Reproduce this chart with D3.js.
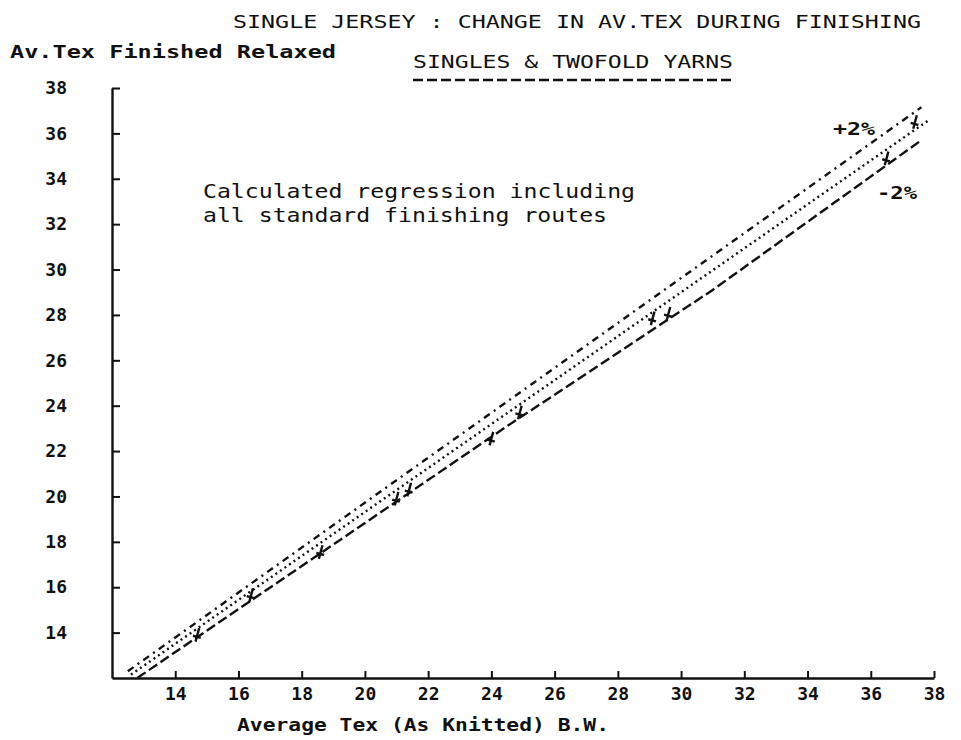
<!DOCTYPE html>
<html><head><meta charset="utf-8">
<script src="https://cdn.jsdelivr.net/npm/d3@7"></script>
<style>
body{margin:0;background:#fff;}
text{font-family:"DejaVu Sans Mono",monospace;fill:#111;}
</style></head>
<body><svg id="c" width="961" height="740"></svg>
<script>
// ---- data ----
const xTicks = [14,16,18,20,22,24,26,28,30,32,34,36,38];
const yTicks = [14,16,18,20,22,24,26,28,30,32,34,36,38];
const regX = [12.6, 37.8];
const regY = [12.15, 36.55];
const upX = [12.5, 37.6];
const upY = [12.3, 37.15];
const loX = [12.8, 24.5, 31.0, 37.6];
const loY = [12.0, 23.1, 29.1, 35.7];
const ptX = [14.7, 16.4, 18.6, 21.0, 21.4, 24.0, 24.9, 29.1, 29.6, 36.5, 37.4];
const ptY = [13.9, 15.65, 17.55, 19.9, 20.3, 22.55, 23.7, 27.85, 28.05, 34.9, 36.5];

const svg = d3.select("#c");
const x = d3.scaleLinear().domain([12,38]).range([112,934]);
const y = d3.scaleLinear().domain([12,38]).range([678,88]);

// axes
const gx = svg.append("g").attr("transform","translate(0,678)")
  .call(d3.axisBottom(x).tickValues(xTicks).tickSizeInner(-7).tickSizeOuter(0).tickPadding(9));
const gy = svg.append("g").attr("transform","translate(112,0)")
  .call(d3.axisLeft(y).tickValues(yTicks).tickSizeInner(-8).tickSizeOuter(0).tickPadding(45));
[gx,gy].forEach(g=>{
  g.select(".domain").attr("stroke","#111").attr("stroke-width",2.4);
  g.selectAll(".tick line").attr("stroke","#111").attr("stroke-width",2);
  g.selectAll(".tick text").attr("font-family","DejaVu Sans Mono").attr("font-size",18)
    .attr("font-weight","bold").attr("fill","#111");
});

// lines
const line = d3.line().x(d=>x(d[0])).y(d=>y(d[1]));
function draw(xs, ys, dash){
  svg.append("path").datum(xs.map((v,i)=>[v,ys[i]]))
    .attr("d",line).attr("fill","none").attr("stroke","#111")
    .attr("stroke-width",2.4).attr("stroke-dasharray",dash);
}
draw(upX, upY, "7 5 2 5");
draw(regX, regY, "2 3.5");
draw(loX, loY, "10 4");

// data markers
svg.selectAll(".pt").data(ptX.map((v,i)=>[v,ptY[i]])).join("path")
  .attr("class","pt")
  .attr("transform",d=>`translate(${x(d[0])},${y(d[1])}) rotate(15)`)
  .attr("d","M0,-7L0,7M-4,2L4,2")
  .attr("stroke","#111").attr("stroke-width",2.4).attr("fill","none");

// texts
function t(str, xx, yy, len, size, weight){
  const e = svg.append("text").attr("x",xx).attr("y",yy).attr("font-size",size).text(str);
  if(len) e.attr("textLength",len).attr("lengthAdjust","spacingAndGlyphs");
  if(weight) e.attr("font-weight",weight);
  return e;
}
t("SINGLE JERSEY : CHANGE IN AV.TEX DURING FINISHING", 233, 28, 688, 18);
t("Av.Tex Finished Relaxed", 10, 58, 326, 18, "bold");
t("SINGLES & TWOFOLD YARNS", 413, 68, 320, 18);
// dashed underline of the subtitle
svg.append("line").attr("x1",413).attr("x2",733).attr("y1",80).attr("y2",80)
  .attr("stroke","#111").attr("stroke-width",2.4).attr("stroke-dasharray","10 4");
t("Calculated regression including", 203, 198, 432, 19);
t("all standard finishing routes", 203, 222, 404, 19);
t("+2%", 833, 135, 42, 18, "bold");
t("-2%", 877, 199, 40, 18, "bold");
t("Average Tex (As Knitted) B.W.", 237, 731, 372, 18, "bold");
</script></body></html>
